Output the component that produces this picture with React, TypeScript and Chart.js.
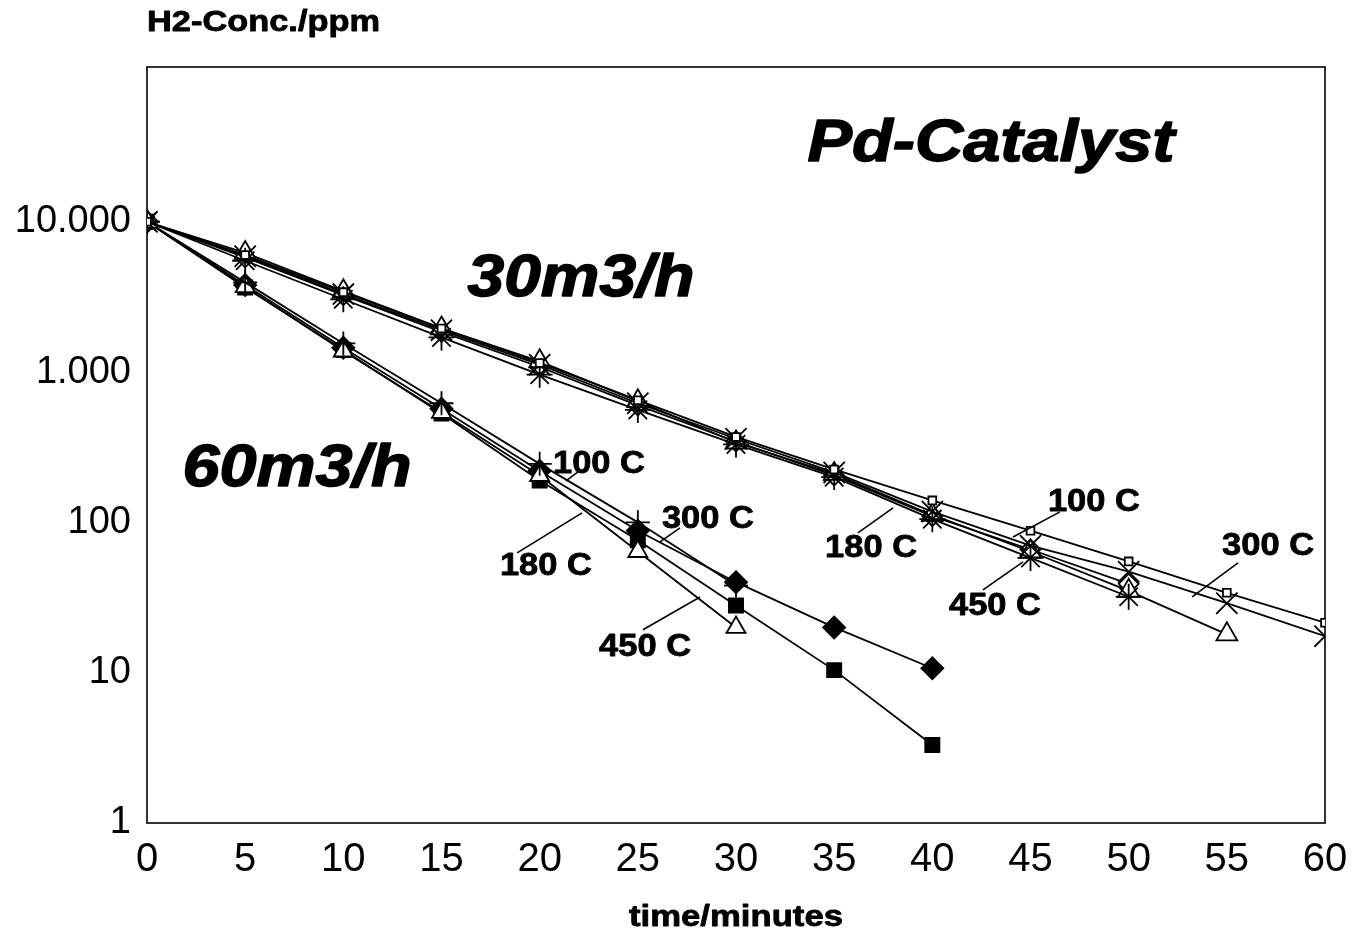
import React, { useEffect, useRef } from "react";
import { Chart, registerables } from "chart.js";

Chart.register(...registerables);

// ---------- data ----------
const minutes = [0, 5, 10, 15, 20, 25, 30, 35, 40, 45, 50, 55, 60];
const yTickValues = [1, 10, 100, 1000, 10000];

// 60 m3/h
const f60_100C = [10000, 3950, 1550, 620, 245, 100, 38];
const f60_180C = [10000, 3700, 1380, 540, 205, 64, 20];
const f60_300C = [10000, 3800, 1450, 570, 220, 88, 40, 20, 10.7];
const f60_450C = [10000, 3650, 1400, 530, 190, 76, 28, 10.4, 3.3];

// 30 m3/h
const f30_100C = [10000, 6000, 3400, 1950, 1150, 650, 370, 225, 140, 88, 55, 34, 21.5];
const f30_180C = [10000, 5500, 3050, 1700, 960, 560, 330, 200, 105, 58, 32];
const f30_300C = [10000, 5900, 3300, 1900, 1120, 620, 360, 215, 118, 70, 47, 29, 17.5];
const f30_450C = [10000, 6200, 3450, 1950, 1180, 640, 340, 210, 112, 64, 35, 18];
const f30_extra = [10000, 5800, 3250, 1850, 1080, 600, 345, 205, 110, 66, 39];

// annotations (data coordinates: minutes, ppm)
const bigLabels = [
  { text: "Pd-Catalyst", x: 42.99, y: 32550, w: 367 },
  { text: "30m3/h", x: 22.11, y: 4110, w: 227 },
  { text: "60m3/h", x: 7.64, y: 223.6, w: 229 },
];
const tempLabels = [
  { text: "100 C", x: 23.02, y: 241, leader: [21.34, 189, 21.95, 217] },
  { text: "180 C", x: 20.32, y: 51, leader: [18.85, 62.7, 22.16, 115.7] },
  { text: "300 C", x: 28.57, y: 105, leader: [26.13, 74.2, 27.15, 91.9] },
  { text: "450 C", x: 25.37, y: 14.8, leader: [25.26, 19.3, 28.17, 31.9] },
  { text: "100 C", x: 48.23, y: 135, leader: [44.11, 80, 46.5, 117.5] },
  { text: "180 C", x: 36.88, y: 66.7, leader: [36.21, 85.1, 38.0, 125] },
  { text: "450 C", x: 43.19, y: 27.4, leader: [42.58, 35.6, 44.62, 54.6] },
  { text: "300 C", x: 57.1, y: 68.7, leader: [53.23, 31.9, 55.57, 53.7] },
];
const yTitle = "H2-Conc./ppm";
const xTitle = "time/minutes";

const FONT = "'Liberation Sans', Arial, Helvetica, sans-serif";

function pts(vals: number[]) {
  return vals.map((v, i) => ({ x: minutes[i], y: v }));
}

function fmt(v: number) {
  return String(v).replace(/\B(?=(\d{3})+(?!\d))/g, ".");
}

function drawFit(ctx: CanvasRenderingContext2D, text: string, cx: number, cy: number, font: string, targetW: number, stroke = 0) {
  ctx.save();
  ctx.font = font;
  const w = ctx.measureText(text).width;
  const sx = targetW / w;
  ctx.translate(cx, cy);
  ctx.scale(sx, 1);
  ctx.textAlign = "center";
  ctx.textBaseline = "middle";
  ctx.fillStyle = "#000";
  ctx.fillText(text, 0, 0);
  if (stroke > 0) {
    ctx.strokeStyle = "#000";
    ctx.lineWidth = stroke;
    ctx.lineJoin = "round";
    ctx.strokeText(text, 0, 0);
  }
  ctx.restore();
}

const decorPlugin = {
  id: "decor",
  beforeDatasetsDraw(chart: any) {
    const { ctx, chartArea } = chart;
    ctx.save();
    ctx.strokeStyle = "#000";
    ctx.lineWidth = 1.6;
    ctx.strokeRect(chartArea.left, chartArea.top, chartArea.right - chartArea.left, chartArea.bottom - chartArea.top);
    ctx.restore();
  },
  afterDatasetsDraw(chart: any) {
    const { ctx } = chart;
    const xs = chart.scales.x;
    const ys = chart.scales.y;
    bigLabels.forEach((l) => {
      drawFit(ctx, l.text, xs.getPixelForValue(l.x), ys.getPixelForValue(l.y), `italic bold 60px ${FONT}`, l.w, 1.5);
    });
    tempLabels.forEach((l) => {
      drawFit(ctx, l.text, xs.getPixelForValue(l.x), ys.getPixelForValue(l.y), `bold 31px ${FONT}`, 92, 0.8);
      const [x1, y1, x2, y2] = l.leader;
      ctx.save();
      ctx.strokeStyle = "#000";
      ctx.lineWidth = 1.6;
      ctx.beginPath();
      ctx.moveTo(xs.getPixelForValue(x1), ys.getPixelForValue(y1));
      ctx.lineTo(xs.getPixelForValue(x2), ys.getPixelForValue(y2));
      ctx.stroke();
      ctx.restore();
    });
    const ca = chart.chartArea;
    drawFit(ctx, yTitle, ca.left + 116.5, 23, `bold 29px ${FONT}`, 233, 0.8);
    drawFit(ctx, xTitle, (ca.left + ca.right) / 2, chart.height - 14, `bold 29px ${FONT}`, 214, 0.8);
  },
};

function ds(label: string, vals: number[], style: string, radius: number, filled: boolean) {
  return {
    label,
    data: pts(vals),
    borderColor: "#000",
    borderWidth: 1.8,
    pointStyle: style,
    pointRadius: radius,
    pointBorderWidth: 1.8,
    pointBorderColor: "#000",
    pointBackgroundColor: filled ? "#000" : "#fff",
    backgroundColor: "#000",
    fill: false,
    tension: 0,
  };
}

export default function App() {
  const ref = useRef<HTMLCanvasElement | null>(null);
  useEffect(() => {
    document.body.style.margin = "0";
    const canvas = ref.current!;
    const chart = new Chart(canvas, {
      type: "line",
      data: {
        datasets: [
          ds("30 m3/h – 100 C", f30_100C, "rect", 5.5, false),
          ds("30 m3/h – 180 C", f30_180C, "star", 13, false),
          ds("30 m3/h – 300 C", f30_300C, "crossRot", 15, false),
          ds("30 m3/h – 450 C", f30_450C, "triangle", 12, false),
          ds("30 m3/h – (diamond)", f30_extra, "rectRot", 10, false),
          ds("60 m3/h – 100 C", f60_100C, "cross", 12, false),
          ds("60 m3/h – 180 C", f60_180C, "triangle", 11, false),
          ds("60 m3/h – 300 C", f60_300C, "rectRot", 11, true),
          ds("60 m3/h – 450 C", f60_450C, "rect", 10, true),
        ] as any,
      },
      options: {
        animation: false,
        responsive: false,
        maintainAspectRatio: false,
        layout: { padding: { left: 0, right: 36, top: 67, bottom: 0 } },
        plugins: { legend: { display: false }, tooltip: { enabled: false } },
        scales: {
          x: {
            type: "linear",
            min: 0,
            max: 60,
            grid: { display: false, drawTicks: false },
            border: { display: false },
            ticks: {
              stepSize: 5,
              padding: 13,
              color: "#000",
              maxRotation: 0,
              font: { family: "'Liberation Sans Narrow', 'Arial Narrow', " + FONT, size: 40 },
            },
            afterFit(scale: any) {
              scale.height = 109;
            },
          },
          y: {
            type: "logarithmic",
            min: 1,
            max: 107000,
            grid: { display: false, drawTicks: false },
            border: { display: false },
            afterBuildTicks(scale: any) {
              scale.ticks = yTickValues.map((v) => ({ value: v }));
            },
            ticks: {
              padding: 16,
              color: "#000",
              font: { family: FONT, size: 38 },
              callback: (v: any) => fmt(Number(v)),
            },
            afterFit(scale: any) {
              scale.width = 147;
            },
          },
        },
      } as any,
      plugins: [decorPlugin],
    });
    return () => chart.destroy();
  }, []);
  return (
    <div style={{ width: 1361, height: 932, background: "#fff" }}>
      <canvas ref={ref} width={1361} height={932} style={{ display: "block" }} />
    </div>
  );
}
